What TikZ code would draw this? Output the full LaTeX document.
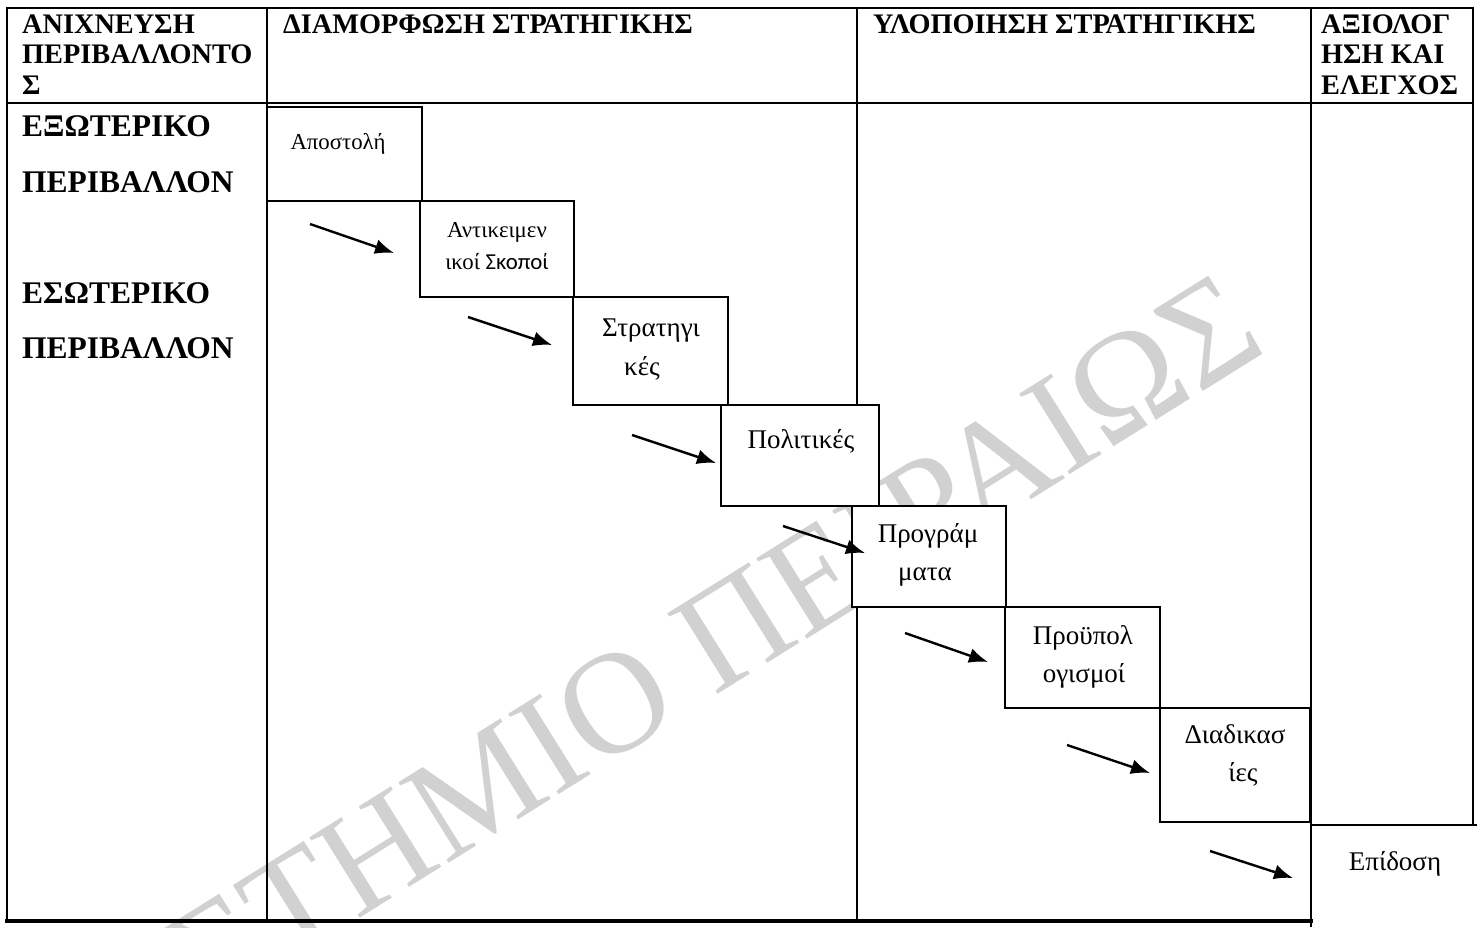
\documentclass[tikz,border=0pt]{standalone}
\usepackage{fontspec}
\setmainfont{Liberation Serif}
\newfontfamily\sansgreek{Carlito}
\usetikzlibrary{arrows.meta}

\tikzset{
  rule/.style={line width=2.6pt, line cap=rect},
  stepbox/.style={rectangle, draw, fill=white, line width=2.4pt, inner sep=0pt},
  head/.style={anchor=base west, inner sep=0pt, font=\fontsize{28.3}{30}\selectfont\bfseries},
  env/.style={anchor=base west, inner sep=0pt, font=\fontsize{31.5}{34}\selectfont\bfseries},
  boxtext/.style={anchor=base, inner sep=0pt, font=\fontsize{27}{30}\selectfont},
  smalltext/.style={anchor=base, inner sep=0pt, font=\fontsize{22.8}{25}\selectfont},
  flow/.style={line width=2.4pt, -{Latex[length=19pt,width=15pt]}},
  seal/.style={inner sep=0pt, text=black!18, font=\fontsize{145}{145}\selectfont}
}

\begin{document}
\begin{tikzpicture}[x=1pt, y=-1pt]
\useasboundingbox (0,0) rectangle (1477,927);

% faint diagonal seal text in the background
\begin{scope}
  \clip (0,0) rectangle (1477,927);
  \node[seal, rotate=32, anchor=base east] (seal) at (1270,350) {ΠΑΝΕΠΙΣΤΗΜΙΟ ΠΕΙΡΑΙΩΣ};
\end{scope}

% table grid
\draw[rule] (7,8) -- (1473,8);
\draw[rule] (7,103) -- (1473,103);
\draw[rule] (7,8) -- (7,921);
\draw[rule] (267,8) -- (267,921);
\draw[rule] (857,8) -- (857,921);
\draw[rule, line cap=butt] (1311,8) -- (1311,927);
\draw[rule] (1473,8) -- (1473,825);
\draw[rule, line width=3.2pt] (7,921) -- (1311,921);
\draw[rule, line cap=butt] (1311,825) -- (1477,825);

% column headings
\node[head] (scanA) at (22,33) {ΑΝΙΧΝΕΥΣΗ};
\node[head] (scanB) at (22,63.5) {ΠΕΡΙΒΑΛΛΟΝΤΟ};
\node[head] (scanC) at (22,94) {Σ};
\node[head] (form) at (283,33) {ΔΙΑΜΟΡΦΩΣΗ ΣΤΡΑΤΗΓΙΚΗΣ};
\node[head] (impl) at (873,33) {ΥΛΟΠΟΙΗΣΗ ΣΤΡΑΤΗΓΙΚΗΣ};
\node[head] (evalA) at (1321,33) {ΑΞΙΟΛΟΓ};
\node[head] (evalB) at (1321,63.5) {ΗΣΗ ΚΑΙ};
\node[head] (evalC) at (1321,94) {ΕΛΕΓΧΟΣ};

% environment labels
\node[env] (extA) at (22,136) {ΕΞΩΤΕΡΙΚΟ};
\node[env] (extB) at (22,192) {ΠΕΡΙΒΑΛΛΟΝ};
\node[env] (intA) at (22,303) {ΕΣΩΤΕΡΙΚΟ};
\node[env] (intB) at (22,358) {ΠΕΡΙΒΑΛΛΟΝ};

% staircase of steps
\node[stepbox, minimum width=155pt, minimum height=94pt]  (mission)  at (344.5,154) {};
\node[stepbox, minimum width=154pt, minimum height=96pt]  (goals)    at (497,249) {};
\node[stepbox, minimum width=155pt, minimum height=108pt] (strat)    at (650.5,351) {};
\node[stepbox, minimum width=158pt, minimum height=101pt] (policy)   at (800,455.5) {};
\node[stepbox, minimum width=154pt, minimum height=101pt] (progr)    at (929,556.5) {};
\node[stepbox, minimum width=155pt, minimum height=101pt] (budget)   at (1082.5,657.5) {};
\node[stepbox, minimum width=150pt, minimum height=114pt] (proc)     at (1235,765) {};

% step labels
\node[smalltext] (missionT) at (338,149) {Αποστολή};
\node[smalltext] (goalsT1) at (497,237) {Αντικειμεν};
\node[smalltext] (goalsT2) at (497,269) {ικοί {\sansgreek Σκοποί}};
\node[boxtext] (stratT1) at (651,336) {Στρατηγι};
\node[boxtext] (stratT2) at (642,375) {κές};
\node[boxtext] (policyT) at (801,448) {Πολιτικές};
\node[boxtext] (progrT1) at (928,542) {Προγράμ};
\node[boxtext] (progrT2) at (925,580) {ματα};
\node[boxtext] (budgetT1) at (1083,644) {Προϋπολ};
\node[boxtext] (budgetT2) at (1084,682) {ογισμοί};
\node[boxtext] (procT1) at (1235,743) {Διαδικασ};
\node[boxtext] (procT2) at (1243,781) {ίες};
\node[boxtext] (perfT) at (1395,870) {Επίδοση};

% arrows leading into each step
\coordinate (a1s) at (310,224);  \coordinate (a1e) at (394,253);
\coordinate (a2s) at (468,317);  \coordinate (a2e) at (552,345);
\coordinate (a3s) at (632,435);  \coordinate (a3e) at (716,463);
\coordinate (a4s) at (783,526);  \coordinate (a4e) at (865,553);
\coordinate (a5s) at (905,633);  \coordinate (a5e) at (988,662);
\coordinate (a6s) at (1067,745); \coordinate (a6e) at (1150,773);
\coordinate (a7s) at (1210,851); \coordinate (a7e) at (1293,878);
\foreach \i in {1,...,7} {
  \draw[flow] (a\i s) -- (a\i e);
}
\end{tikzpicture}
\end{document}
